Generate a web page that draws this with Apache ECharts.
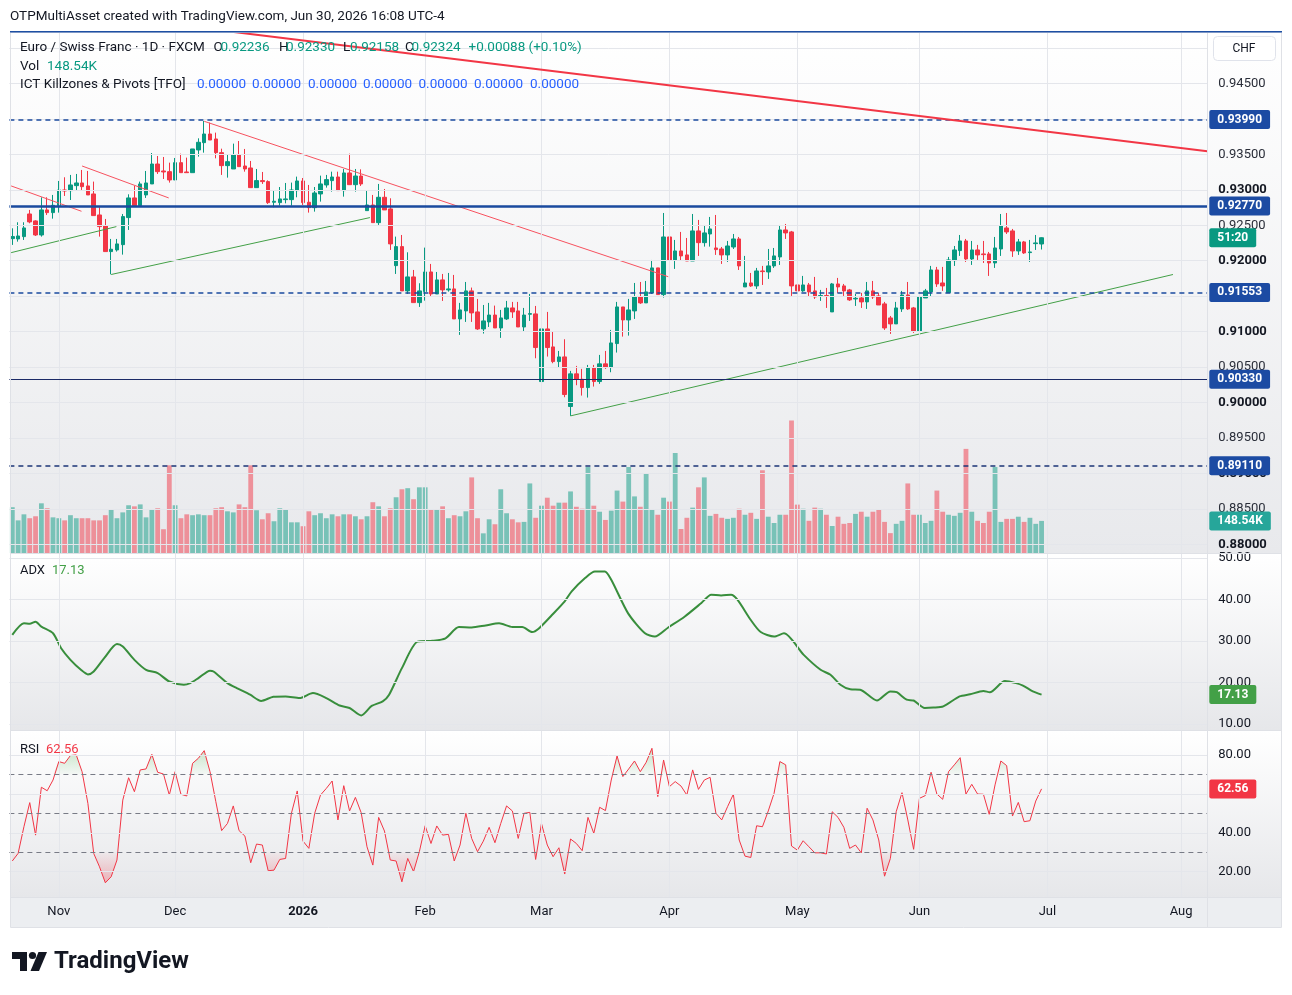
<!DOCTYPE html>
<html><head><meta charset="utf-8">
<script src="https://cdn.jsdelivr.net/npm/echarts@6/dist/echarts.min.js"></script>
<style>html,body{margin:0;padding:0;background:#fff}#c{width:1292px;height:995px}</style>
</head><body><div id="c"></div>
<script>
// ---------- DATA (EUR/CHF daily, FXCM) ----------
const opens=[0.92312,0.92307,0.92340,0.92659,0.92561,0.92363,0.92716,0.92678,0.92777,0.92997,
0.92988,0.93058,0.93096,0.93054,0.92941,0.92645,0.92490,0.92129,0.92152,0.92227,
0.92608,0.92885,0.92777,0.92927,0.93082,0.93363,0.93265,0.93255,0.93138,0.93382,
0.93251,0.93241,0.93561,0.93664,0.93786,0.93716,0.93523,0.93340,0.93293,0.93490,
0.93335,0.93307,0.93030,0.93129,0.93115,0.92824,0.92819,0.92861,0.92861,0.92988,
0.93124,0.92824,0.92748,0.92941,0.93068,0.93129,0.93180,0.92988,0.93237,0.93072,
0.93194,0.92706,0.92786,0.92537,0.92894,0.92730,0.91931,0.92199,0.91575,0.91772,
0.91410,0.91565,0.91842,0.91532,0.91730,0.91589,0.91603,0.91180,0.91293,0.91575,
0.91279,0.91039,0.91138,0.91235,0.91053,0.91180,0.91335,0.91293,0.91067,0.91246,
0.91251,0.90298,0.91039,0.90786,0.90579,0.90645,0.89946,0.90406,0.90330,0.90213,
0.90490,0.90298,0.90547,0.90495,0.90833,0.91349,0.91166,0.91293,0.91490,0.91406,
0.91547,0.91899,0.91523,0.92335,0.92011,0.92138,0.92082,0.91997,0.92420,0.92255,
0.92377,0.92180,0.92166,0.92082,0.92194,0.92307,0.91631,0.91687,0.91645,0.91856,
0.91842,0.91927,0.92054,0.92434,0.92406,0.91659,0.91575,0.91659,0.91575,0.91500,
0.91509,0.91279,0.91673,0.91645,0.91589,0.91462,0.91476,0.91420,0.91575,0.91504,
0.91392,0.91194,0.91110,0.91321,0.91518,0.91335,0.91011,0.91476,0.91561,0.91870,
0.91687,0.91551,0.92002,0.92143,0.92279,0.92025,0.92152,0.92096,0.92096,0.91969,
0.92166,0.92462,0.92420,0.92138,0.92265,0.92115,0.92241,0.92236];
const highs=[0.92457,0.92542,0.92542,0.92716,0.92570,0.92894,0.92894,0.92927,0.93124,0.93176,
0.93209,0.93223,0.93279,0.93265,0.93115,0.92753,0.92589,0.92307,0.92307,0.92659,
0.92936,0.93054,0.93115,0.93265,0.93518,0.93476,0.93462,0.93382,0.93448,0.93509,
0.93453,0.93575,0.93725,0.93969,0.93946,0.93805,0.93579,0.93490,0.93650,0.93687,
0.93575,0.93406,0.93293,0.93251,0.93133,0.92988,0.93039,0.93096,0.93101,0.93185,
0.93166,0.93068,0.93039,0.93199,0.93209,0.93255,0.93255,0.93293,0.93509,0.93293,
0.93288,0.92983,0.92927,0.93082,0.93011,0.92880,0.92340,0.92363,0.92119,0.91870,
0.91683,0.92185,0.91955,0.91842,0.91814,0.91828,0.91800,0.91406,0.91701,0.91622,
0.91462,0.91377,0.91406,0.91368,0.91307,0.91434,0.91420,0.91420,0.91335,0.91532,
0.91363,0.91321,0.91279,0.90997,0.90729,0.90894,0.90448,0.90518,0.90476,0.90532,
0.90532,0.90673,0.90729,0.91025,0.91420,0.91349,0.91462,0.91687,0.91701,0.91715,
0.92011,0.91899,0.92673,0.92406,0.92293,0.92406,0.92321,0.92659,0.92575,0.92504,
0.92617,0.92645,0.92194,0.92279,0.92377,0.92335,0.92068,0.91828,0.91899,0.91927,
0.92166,0.92180,0.92504,0.92518,0.92420,0.91683,0.91786,0.91687,0.91772,0.91589,
0.91617,0.91687,0.91758,0.91673,0.91603,0.91532,0.91547,0.91701,0.91715,0.91547,
0.91420,0.91222,0.91420,0.91575,0.91701,0.91349,0.91561,0.91603,0.91927,0.91913,
0.91913,0.92054,0.92208,0.92363,0.92307,0.92279,0.92223,0.92279,0.92124,0.92335,
0.92659,0.92673,0.92448,0.92307,0.92279,0.92293,0.92363,0.92330];
const lows=[0.92223,0.92269,0.92293,0.92528,0.92349,0.92340,0.92645,0.92593,0.92678,0.92913,
0.92856,0.92988,0.92997,0.92927,0.92636,0.92340,0.92129,0.91809,0.92129,0.92086,
0.92434,0.92777,0.92777,0.92885,0.93082,0.93223,0.93152,0.93101,0.93138,0.93241,
0.93241,0.93241,0.93467,0.93523,0.93701,0.93443,0.93209,0.93171,0.93293,0.93326,
0.93255,0.93030,0.93030,0.93082,0.92800,0.92753,0.92777,0.92809,0.92777,0.92894,
0.92786,0.92678,0.92692,0.92833,0.93030,0.92974,0.92988,0.92903,0.93072,0.92974,
0.93054,0.92706,0.92537,0.92504,0.92716,0.92152,0.91814,0.91575,0.91532,0.91410,
0.91349,0.91438,0.91495,0.91532,0.91434,0.91565,0.91180,0.90955,0.91138,0.91138,
0.91025,0.90974,0.91067,0.91053,0.90913,0.91166,0.91194,0.91067,0.90997,0.91152,
0.90626,0.90227,0.90650,0.90556,0.90495,0.90077,0.89814,0.90246,0.90100,0.90072,
0.90227,0.90265,0.90476,0.90429,0.90706,0.90931,0.90945,0.91180,0.91392,0.91406,
0.91532,0.91523,0.91481,0.91828,0.91885,0.92002,0.91997,0.91997,0.92068,0.92199,
0.92199,0.92082,0.91955,0.91983,0.92166,0.91870,0.91631,0.91631,0.91603,0.91659,
0.91744,0.91899,0.91941,0.92307,0.91504,0.91561,0.91561,0.91504,0.91462,0.91434,
0.91335,0.91279,0.91547,0.91504,0.91434,0.91363,0.91335,0.91321,0.91462,0.91377,
0.91025,0.90969,0.91110,0.91279,0.91307,0.90983,0.91011,0.91476,0.91490,0.91631,
0.91575,0.91551,0.91927,0.92068,0.91983,0.91941,0.92011,0.91969,0.91786,0.91899,
0.92068,0.92377,0.92054,0.92082,0.92096,0.91983,0.92152,0.92158];
const closes=[0.92340,0.92349,0.92462,0.92547,0.92363,0.92716,0.92678,0.92781,0.92997,0.92983,
0.93068,0.93096,0.93044,0.92927,0.92636,0.92481,0.92129,0.92162,0.92237,0.92622,
0.92885,0.92777,0.93082,0.93096,0.93363,0.93255,0.93251,0.93138,0.93382,0.93241,
0.93241,0.93575,0.93669,0.93786,0.93701,0.93523,0.93340,0.93396,0.93490,0.93326,
0.93293,0.93030,0.93129,0.93115,0.92819,0.92838,0.92871,0.92871,0.92997,0.93124,
0.92819,0.92748,0.92955,0.93082,0.93143,0.93180,0.92988,0.93237,0.93072,0.93194,
0.93082,0.92786,0.92537,0.92894,0.92716,0.92237,0.92199,0.91575,0.91772,0.91410,
0.91575,0.91842,0.91532,0.91730,0.91589,0.91603,0.91180,0.91307,0.91575,0.91265,
0.91039,0.91152,0.91235,0.91053,0.91194,0.91335,0.91279,0.91067,0.91235,0.91255,
0.90777,0.91039,0.90777,0.90579,0.90645,0.90115,0.90406,0.90330,0.90213,0.90490,
0.90298,0.90547,0.90495,0.90842,0.91349,0.91166,0.91307,0.91490,0.91406,0.91561,
0.91899,0.91523,0.92335,0.92011,0.92138,0.92068,0.91997,0.92420,0.92255,0.92392,
0.92448,0.92157,0.92082,0.92208,0.92307,0.91927,0.91687,0.91645,0.91856,0.91847,
0.91927,0.92068,0.92434,0.92392,0.91645,0.91575,0.91659,0.91561,0.91490,0.91509,
0.91500,0.91673,0.91631,0.91575,0.91448,0.91471,0.91420,0.91575,0.91490,0.91377,
0.91053,0.91110,0.91335,0.91518,0.91321,0.91011,0.91490,0.91575,0.91870,0.91673,
0.91645,0.92011,0.92152,0.92279,0.92025,0.92152,0.92082,0.92086,0.91969,0.92180,
0.92490,0.92406,0.92138,0.92265,0.92110,0.92124,0.92251,0.92324];
// volume in thousands
const volumes=[212,151,179,161,170,230,207,165,161,151,
175,161,161,161,151,151,175,202,161,188,
221,216,225,165,202,207,110,406,221,161,
179,175,179,175,175,207,212,193,188,225,
212,406,198,156,184,147,207,202,142,142,
124,193,175,184,161,179,170,179,179,170,
156,170,235,216,170,207,258,295,300,249,
304,304,202,202,216,161,175,170,193,350,
161,91,156,133,295,184,156,142,144,322,
163,219,256,219,233,233,285,214,205,398,
219,191,153,196,289,238,398,262,214,369,
200,177,256,238,463,111,163,210,304,350,
172,181,163,158,163,205,177,186,158,383,
168,139,177,177,613,224,205,149,210,205,
177,125,168,135,139,181,191,168,191,200,
144,92,135,149,322,177,177,139,149,289,
191,177,172,186,482,191,149,139,191,398,
144,158,158,168,144,163,135,148.54];
// ADX read points (bar position, value)
const adxX=[0,2,3,4,5,7,8.4,10,11.8,13,14,15.8,18,19,21,23,25,27,29.5,30.6,32,34,34.6,37,38.6,40.9,42.8,44.9,47,49.4,51.7,54,56.3,58,60,61.8,63.7,64.8,67,69.7,72.3,74.5,76.8,79,81.4,83.7,86,87.7,89.4,90.5,92.8,95,96.2,98.5,100.2,101.9,103,105.9,108.8,110.5,112.8,115.6,118.5,120.2,121.9,123.6,124.7,127,128.7,131,132.7,136.1,139,140.7,142.4,144.1,145.8,148.7,151,152.1,153.8,155,156.9,158.4,160.1,162.9,164.7,167,168.1,170.7,172.6,173.8,175.5,177];
const adxY=[31.5,34.3,34.2,34.7,33.5,31.9,28.3,25.5,23.1,22.0,22.7,25.9,29.3,28.7,25.5,23.1,22.3,20.3,19.5,19.9,21.1,22.9,22.7,19.9,18.7,17.1,15.6,16.6,16.7,16.3,17.5,16.3,14.5,13.9,12.1,14.4,15.5,17.1,23.5,29.9,30.1,30.7,33.4,33.3,33.8,34.3,33.4,33.4,32.2,33.0,36.3,39.6,42.0,45.2,46.8,46.8,44.8,36.7,31.9,31.1,33.3,35.9,39.2,41.2,41.0,41.2,40.0,35.1,32.2,31.1,31.9,26.7,23.1,21.9,19.5,18.4,18.3,15.7,17.9,17.7,15.9,15.7,13.9,14.0,14.3,16.7,17.2,18.0,17.7,20.4,19.9,19.3,17.9,17.13];
// RSI per bar
const rsi=[25.5,29.4,43.1,55.5,38.8,63.4,61.6,67.1,76.6,75.7,
79.7,80.0,71.4,55.1,29.4,22.5,14.3,17.4,26.0,56.8,
68.3,61.1,72.3,72.8,80.3,71.1,70.2,59.4,71.4,59.8,
58.9,75.7,78.3,82.2,71.4,56.0,41.1,44.8,53.8,41.1,
38.3,24.6,34.2,33.7,20.5,20.8,26.3,26.8,50.0,61.5,
35.7,32.0,50.0,59.4,62.8,66.6,46.6,64.2,51.2,58.2,
50.3,32.8,23.4,47.9,40.9,26.0,25.5,14.8,26.8,20.0,
30.3,43.6,34.5,43.5,38.8,39.2,25.5,33.7,50.0,37.1,
30.3,35.7,42.8,34.9,44.8,53.8,51.2,37.1,50.0,50.5,
26.3,44.8,33.7,27.7,32.3,18.8,36.8,34.5,30.8,47.9,
39.7,53.1,51.4,67.1,79.5,68.9,72.8,76.9,71.4,76.2,
83.4,58.6,77.4,63.7,66.3,64.0,59.4,72.3,62.3,67.1,
68.5,50.0,46.6,53.4,59.8,36.3,28.0,27.3,43.6,43.1,
51.2,60.3,76.6,74.9,33.2,31.1,35.9,32.8,29.7,29.7,
29.1,50.8,47.9,42.8,32.0,33.7,29.7,52.6,46.6,36.3,
17.7,26.8,50.8,60.6,46.6,31.5,57.7,59.1,71.1,59.9,
57.2,71.4,74.9,78.6,59.9,64.9,59.9,59.8,49.5,64.6,
76.9,74.5,48.6,55.6,45.7,46.2,56.3,62.56];
// drawn levels and trend lines (bar position, price)
const levelPrices=[0.93990,0.92770,0.91553,0.90330,0.89110];
const redTrendMain=[[38.1,0.95223],[205.5,0.93542]];
const redTrendA=[[-0.2,0.93054],[11.9,0.92697]];
const redTrendB=[[12.0,0.93335],[26.9,0.92885]];
const redTrendC=[[33.0,0.93965],[112.8,0.91775]];
const greenTrendA=[[-0.2,0.92114],[17.9,0.92481]];
const greenTrendB=[[17.0,0.91806],[61.5,0.92608]];
const greenTrendC=[[96.0,0.89814],[199.6,0.91806]];
const priceTicks=[0.880,0.885,0.890,0.895,0.900,0.905,0.910,0.920,0.925,0.930,0.935,0.945];
const priceGrid=[0.880,0.885,0.890,0.895,0.900,0.905,0.910,0.915,0.920,0.925,0.930,0.935,0.940,0.945,0.950];
const adxTicks=[10,20,30,40,50];
const rsiTicks=[20,40,60,80];
const rsiBands=[30,50,70];
const MONTHS=['Jan','Feb','Mar','Apr','May','Jun','Jul','Aug','Sep','Oct','Nov','Dec'];

// trading-day calendar: Oct 22 2025 onward, 206 slots (178 bars + future space)
const dates=(function(){const out=[];const d=new Date(Date.UTC(2025,9,22));
 const skip=new Set(['2025-12-25','2026-01-01']);
 while(out.length<206){const wd=d.getUTCDay();const s=d.toISOString().slice(0,10);
  if(wd!==0&&wd!==6&&!skip.has(s))out.push(s);d.setUTCDate(d.getUTCDate()+1);}return out;})();
const monthIdx=[];for(let i=1;i<dates.length;i++){if(dates[i].slice(5,7)!==dates[i-1].slice(5,7))monthIdx.push(i);}
const monthSet=new Set(monthIdx);

// ---------- RENDER ----------
const FONT='Roboto, "Liberation Sans", Arial, sans-serif';
const UP='#089981',DN='#f23645',BLUE='#1a4a9e',TXT='#131722';
const N=dates.length, XMIN=-0.5, XMAX=N-0.5;
const chart=echarts.init(document.getElementById('c'),null,{renderer:'canvas',width:1292,height:995});

const candleData=opens.map((o,i)=>[o,closes[i],lows[i],highs[i]]);
const volData=volumes.map((v,i)=>({value:v,itemStyle:{color:closes[i]>=opens[i]?'rgba(8,153,129,0.5)':'rgba(242,54,69,0.5)'}}));
const rsiPts=rsi.map((v,i)=>[i,v]);
const adxPts=adxX.map((x,i)=>[x,adxY[i]]);
function clipAt(vals,level,above){const out=[];for(let i=0;i<vals.length;i++){const v=vals[i];
 if(i>0){const p=vals[i-1];if((p-level)*(v-level)<0){const t=(level-p)/(v-p);out.push([i-1+t,level]);}}
 out.push([i,above?Math.max(v,level):Math.min(v,level)]);}return out;}

const HIDDEN={color:'rgba(0,0,0,0)',width:0};
function gridSeries(xi,yi,hv,vv,anchorY){return {type:'line',xAxisIndex:xi,yAxisIndex:yi,data:[[0,anchorY]],showSymbol:false,silent:true,z:1,
 lineStyle:{opacity:0},markLine:{precision:6,silent:true,symbol:'none',animation:false,label:{show:false},lineStyle:{color:'#e4e6eb',width:1,type:'solid'},
 data:[...hv.map(v=>({yAxis:v})),...vv.map(v=>({xAxis:v}))]}};}
function trend(pts,color,width,z){return {type:'line',xAxisIndex:1,yAxisIndex:0,data:pts,showSymbol:false,silent:true,clip:true,z:z||4,lineStyle:{color,width}};}
function tagLabel(bg,txt){return {show:true,position:'end',distance:2,formatter:txt,color:'#fff',backgroundColor:bg,fontFamily:FONT,fontSize:12,fontWeight:'bold',padding:[4,8,3,8],borderRadius:2,opacity:1};}
function tagLine(yVal,bg,txt){return {precision:6,silent:true,symbol:'none',animation:false,
 data:[{yAxis:yVal,lineStyle:HIDDEN,label:tagLabel(bg,txt)}]};}

const levelStyles=[{type:[5,4],width:1.5},{type:'solid',width:2.5},{type:[5,4],width:1.5},{type:'solid',width:1.2},{type:[5,4],width:1.5}];
const levelColors=[BLUE,BLUE,BLUE,'#1b2a66','#1b3577'];

const gfx=[];
function rect(x,y,w,h,fill,z){gfx.push({type:'rect',shape:{x,y,width:w,height:h},style:{fill},z:z||0,silent:true});}
function grad(a,b){return new echarts.graphic.LinearGradient(0,0,0,1,[{offset:0,color:a},{offset:1,color:b}]);}
function text(x,y,t,color,size,weight,align){gfx.push({type:'text',x,y,z:100,silent:true,style:{text:t,fill:color,font:(weight||'normal')+' '+(size||13)+'px '+FONT,textAlign:align||'left',textVerticalAlign:'middle',align:align||'left',verticalAlign:'middle'}});}
// pane backgrounds
rect(11,32,1270,521,grad('#ffffff','#e8e9ec'),-10);
rect(11,554,1270,176,grad('#ffffff','#e6e7ea'),-10);
rect(11,731,1270,166,grad('#ffffff','#e6e7ea'),-10);
rect(11,897,1270,30,'#eceef1',-10);
// separators & frame
rect(11,553,1270,1,'#dfe1e6',50);rect(11,730,1270,1,'#dfe1e6',50);rect(11,897,1270,1,'#dfe1e6',50);
rect(1207,32,1,895,'#dfe1e6',50);
gfx.push({type:'rect',shape:{x:10.5,y:32.5,width:1271,height:895},style:{fill:'none',stroke:'#dfe1e6',lineWidth:1},z:50,silent:true});
rect(10,31,1272,1.6,'#1e4fa3',60);
// CHF button
gfx.push({type:'rect',shape:{x:1213.5,y:36.5,width:62,height:24,r:4},style:{fill:'#ffffff',stroke:'#e0e3eb',lineWidth:1},z:60,silent:true});
text(1244,49,'CHF',TXT,12,'normal','center');
// header + legends
text(10,17,'OTPMultiAsset created with TradingView.com, Jun 30, 2026 16:08 UTC-4',TXT,13.5);
const last=opens.length-1;
text(20,48,'Euro / Swiss Franc · 1D · FXCM',TXT,13.5);
text(213.5,48,'O',TXT,13.5);text(220.5,48,opens[last].toFixed(5),UP,13.5);
text(279,48,'H',TXT,13.5);text(286,48,highs[last].toFixed(5),UP,13.5);
text(343,48,'L',TXT,13.5);text(350,48,lows[last].toFixed(5),UP,13.5);
text(405,48,'C',TXT,13.5);text(411.5,48,closes[last].toFixed(5),UP,13.5);
text(468.5,48,'+0.00088 (+0.10%)',UP,13.5);
text(20,66.5,'Vol',TXT,13.5);text(47,66.5,volumes[last].toFixed(2)+'K',UP,13.5);
text(20,85,'ICT Killzones & Pivots [TFO]',TXT,13.5);
[197,252,308,363,418.5,474,530].forEach(x=>text(x,85,'0.00000','#2962ff',13.5));
text(20,571,'ADX',TXT,13);text(52,571,adxY[adxY.length-1].toFixed(2),'#43a047',13);
text(20,749.5,'RSI',TXT,13);text(46,749.5,rsi[rsi.length-1].toFixed(2),DN,13);
// TradingView logo
gfx.push({type:'polygon',shape:{points:[[12,952],[27,952],[27,971],[20,971],[20,959],[12,959]]},style:{fill:TXT},z:60,silent:true});
gfx.push({type:'circle',shape:{cx:32.5,cy:955.5,r:3.6},style:{fill:TXT},z:60,silent:true});
gfx.push({type:'polygon',shape:{points:[[38.5,952],[47,952],[39,971],[30.5,971]]},style:{fill:TXT},z:60,silent:true});
text(54,962,'TradingView',TXT,24,'bold');

const yLab=(dec)=>({margin:11,color:TXT,fontSize:13,fontFamily:FONT,formatter:v=>v.toFixed(dec)});

const option={
 animation:false,
 textStyle:{fontFamily:FONT},
 grid:[
  {left:9.39,top:32,width:1197.9,height:521,outerBoundsMode:'none'},
  {left:9.39,top:554,width:1197.9,height:176,outerBoundsMode:'none'},
  {left:9.39,top:731,width:1197.9,height:166,outerBoundsMode:'none'}],
 xAxis:[
  {type:'category',gridIndex:0,data:dates,show:false},
  {type:'value',gridIndex:0,min:XMIN,max:XMAX,show:false},
  {type:'value',gridIndex:1,min:XMIN,max:XMAX,show:false},
  {type:'category',gridIndex:2,data:dates,axisLine:{show:false},axisTick:{show:false},splitLine:{show:false},
   axisLabel:{show:true,interval:(i)=>monthSet.has(i),margin:8,color:TXT,fontSize:13,fontFamily:FONT,
    formatter:(v)=>{const m=+v.slice(5,7)-1;return m===0?'{y|'+v.slice(0,4)+'}':MONTHS[m];},
    rich:{y:{fontWeight:'bold',fontSize:13,color:TXT,fontFamily:FONT}}}},
  {type:'value',gridIndex:2,min:XMIN,max:XMAX,show:false}],
 yAxis:[
  {type:'value',gridIndex:0,position:'right',min:0.87882,max:0.95223,axisLine:{show:false},axisTick:{show:false},splitLine:{show:false},
   axisLabel:{customValues:priceTicks,margin:11,color:TXT,fontSize:13,fontFamily:FONT,
    formatter:v=>{const b=Math.abs(v*100-Math.round(v*100))<1e-6;return b?'{b|'+v.toFixed(5)+'}':'{n|'+v.toFixed(5)+'}';},
    rich:{b:{fontWeight:'bold',fontSize:13,color:TXT,fontFamily:FONT},n:{fontSize:13,color:'#2a2e39',fontFamily:FONT}}}},
  {type:'value',gridIndex:0,min:0,max:2412,show:false},
  {type:'value',gridIndex:1,position:'right',min:8.6,max:51.0,axisLine:{show:false},axisTick:{show:false},splitLine:{show:false},
   axisLabel:Object.assign({customValues:adxTicks},yLab(2))},
  {type:'value',gridIndex:2,position:'right',min:7.0,max:92.3,axisLine:{show:false},axisTick:{show:false},splitLine:{show:false},
   axisLabel:Object.assign({customValues:rsiTicks},yLab(2))}],
 graphic:{elements:gfx},
 series:[
  gridSeries(1,0,priceGrid,monthIdx,0.92),
  gridSeries(2,2,adxTicks,monthIdx,30),
  gridSeries(4,3,rsiTicks,monthIdx,50),
  {type:'bar',xAxisIndex:0,yAxisIndex:1,data:volData,barWidth:4.8,z:2,silent:true,
   markLine:tagLine(volumes[last],'#26a69a',volumes[last].toFixed(2)+'K')},
  {type:'candlestick',xAxisIndex:0,yAxisIndex:0,data:candleData,barWidth:4,z:3,silent:true,
   itemStyle:{color:UP,color0:DN,borderColor:UP,borderColor0:DN,borderWidth:1},
   markLine:tagLine(closes[last],UP,'51:20')},
  trend(redTrendMain,'#f23645',2,5),
  trend(redTrendA,'#f7525f',1),trend(redTrendB,'#f7525f',1),trend(redTrendC,'#f7525f',1),
  trend(greenTrendA,'#43a047',1),trend(greenTrendB,'#43a047',1),trend(greenTrendC,'#43a047',1),
  {type:'line',xAxisIndex:1,yAxisIndex:0,data:[[0,0.92]],showSymbol:false,silent:true,z:6,lineStyle:{opacity:0},
   markLine:{precision:6,silent:true,symbol:'none',animation:false,
    data:levelPrices.map((p,k)=>({yAxis:p,lineStyle:{color:levelColors[k],width:levelStyles[k].width,type:levelStyles[k].type},label:tagLabel('#1c4ba3',p.toFixed(5))}))}},
  {type:'line',xAxisIndex:2,yAxisIndex:2,data:adxPts,showSymbol:false,silent:true,smooth:0.25,z:4,lineStyle:{color:'#388e3c',width:2},
   markLine:tagLine(adxY[adxY.length-1],'#43a047',adxY[adxY.length-1].toFixed(2))},
  {type:'line',xAxisIndex:4,yAxisIndex:3,data:[[0,50]],showSymbol:false,silent:true,z:2,lineStyle:{opacity:0},
   markLine:{precision:6,silent:true,symbol:'none',animation:false,label:{show:false},lineStyle:{color:'#787b86',width:1,type:[5,4]},data:rsiBands.map(v=>({yAxis:v}))}},
  {type:'line',xAxisIndex:4,yAxisIndex:3,data:clipAt(rsi,70,true),showSymbol:false,silent:true,z:3,lineStyle:{opacity:0},
   areaStyle:{origin:70,color:grad('rgba(76,175,80,0.45)','rgba(76,175,80,0.04)')}},
  {type:'line',xAxisIndex:4,yAxisIndex:3,data:clipAt(rsi,30,false),showSymbol:false,silent:true,z:3,lineStyle:{opacity:0},
   areaStyle:{origin:30,color:grad('rgba(242,54,69,0.04)','rgba(242,54,69,0.45)')}},
  {type:'line',xAxisIndex:4,yAxisIndex:3,data:rsiPts,showSymbol:false,silent:true,z:4,lineStyle:{color:'#f23645',width:1},
   markLine:tagLine(rsi[rsi.length-1],'#f23645',rsi[rsi.length-1].toFixed(2))}
 ]};
chart.setOption(option);
</script></body></html>
